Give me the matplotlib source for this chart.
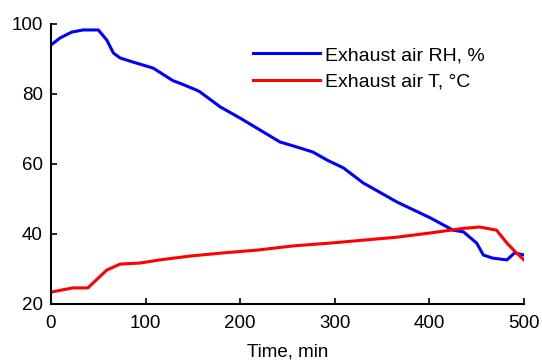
import matplotlib
matplotlib.use("Agg")
import matplotlib.pyplot as plt

plt.rcParams['font.family'] = ['Liberation Sans', 'DejaVu Sans']

rh_time = [0, 9.5, 22, 34, 50, 59, 66, 73, 87, 108, 129, 136, 154, 157.5, 179, 200, 221,
           242, 263, 277, 292, 309, 330, 366, 401, 425, 436, 450, 457, 467, 482, 490, 500]
rh_vals = [94, 96, 97.7, 98.3, 98.3, 95.4, 91.7, 90.3, 89.1, 87.4, 83.8, 83.1, 81.1, 80.6, 76.3,
           73.1, 69.7, 66.3, 64.6, 63.4, 61.1, 58.9, 54.6, 49.1, 44.6, 41.1, 40.6, 37.4, 34.0,
           33.1, 32.6, 34.6, 34.0]

t_time = [0, 23, 39, 48, 59, 73, 94, 115, 147, 182, 218, 256, 295, 366, 401, 436, 453, 471,
          482, 492, 500]
t_vals = [23.4, 24.6, 24.6, 26.9, 29.7, 31.4, 31.7, 32.6, 33.7, 34.6, 35.4, 36.6, 37.4, 39.1,
          40.3, 41.6, 42.0, 41.1, 37.4, 34.6, 32.6]

x_ticks = [0, 100, 200, 300, 400, 500]
y_ticks = [20, 40, 60, 80, 100]

fig = plt.figure(figsize=(5.42, 3.63), dpi=100)
ax = fig.add_axes([51/542, 59/363, 473/542, 280/363])

ax.plot(rh_time, rh_vals, color='#0000ff', lw=2.2, label='Exhaust air RH, %')
ax.plot(t_time, t_vals, color='#ff0000', lw=2.2, label='Exhaust air T, °C')

ax.set_xlim(0, 500)
ax.set_ylim(20, 100)
ax.set_xticks(x_ticks)
ax.set_yticks(y_ticks)
ax.spines['top'].set_visible(False)
ax.spines['right'].set_visible(False)
ax.spines['left'].set_linewidth(1.5)
ax.spines['bottom'].set_linewidth(1.5)
ax.tick_params(direction='in', length=4, width=1.2, labelsize=13.5)
ax.tick_params(axis='x', pad=8)
ax.tick_params(axis='y', pad=6)
ax.set_xlabel('Time, min', fontsize=13.5, labelpad=8)

leg = ax.legend(loc='upper left', bbox_to_anchor=(239/542, 1 - 33/363), bbox_transform=fig.transFigure,
                frameon=False, fontsize=14, handlelength=3.45, handletextpad=0.28,
                labelspacing=0.45, borderpad=0.2)

fig.savefig('out.png', dpi=100)
